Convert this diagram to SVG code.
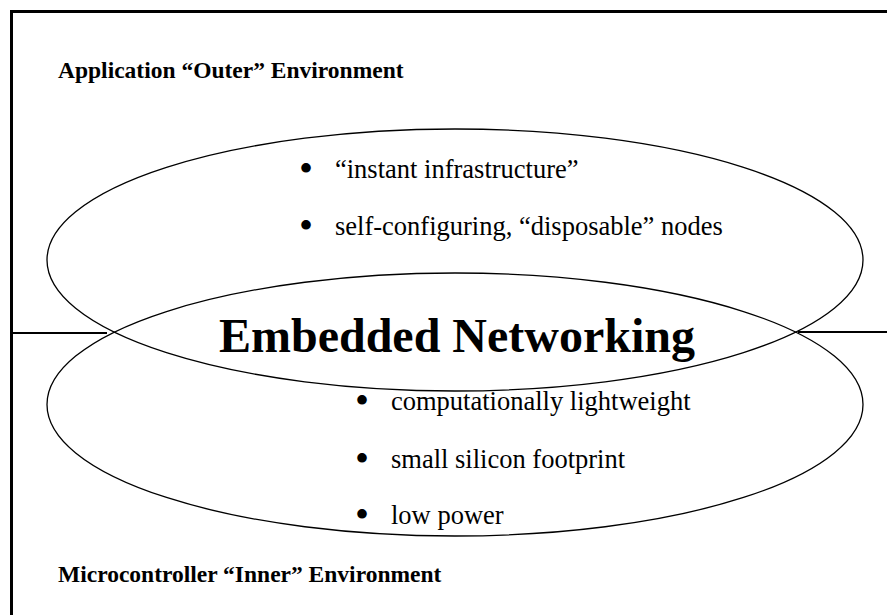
<svg xmlns="http://www.w3.org/2000/svg" width="887" height="615" viewBox="0 0 887 615">
  <style>
    .frame { fill: none; stroke: #000; stroke-width: 3; }
    .ring { fill: none; stroke: #000; stroke-width: 1.3; }
    .link { fill: none; stroke: #000; stroke-width: 2.2; }
    .head { font-family: "Liberation Serif", "Times New Roman", serif; font-weight: bold; font-size: 23.5px; fill: #000; }
    .title { font-family: "Liberation Serif", "Times New Roman", serif; font-weight: bold; font-size: 48px; fill: #000; }
    .item { font-family: "Liberation Serif", "Times New Roman", serif; font-size: 26.5px; fill: #000; }
    .dot { font-family: "Liberation Serif", "Times New Roman", serif; font-size: 40px; fill: #000; text-anchor: middle; }
  </style>

  <rect width="887" height="615" fill="#fff"/>

  <!-- page frame: only top and left edges fall inside the view -->
  <g id="frame">
    <path class="frame" d="M11.5 615 V11.5 H887"/>
  </g>

  <!-- outer environment ellipse -->
  <g id="outer-environment">
    <ellipse class="ring" cx="455" cy="260" rx="408" ry="131"/>
    <text class="dot" x="306" y="182">•</text>
    <text class="item" x="335" y="178">“instant infrastructure”</text>
    <text class="dot" x="306" y="239">•</text>
    <text class="item" x="335" y="235">self-configuring, “disposable” nodes</text>
  </g>

  <!-- inner environment ellipse -->
  <g id="inner-environment">
    <ellipse class="ring" cx="455" cy="404.5" rx="408" ry="131.5"/>
    <text class="dot" x="362" y="414">•</text>
    <text class="item" x="391" y="410">computationally lightweight</text>
    <text class="dot" x="362" y="472">•</text>
    <text class="item" x="391" y="468">small silicon footprint</text>
    <text class="dot" x="362" y="528">•</text>
    <text class="item" x="391" y="524">low power</text>
  </g>

  <g id="title">
    <text class="title" x="457" y="352" text-anchor="middle">Embedded Networking</text>
  </g>

  <g id="outer-label">
    <text class="head" x="58" y="78">Application “Outer” Environment</text>
  </g>

  <g id="inner-label">
    <text class="head" x="58" y="582">Microcontroller “Inner” Environment</text>
  </g>

  <!-- boundary lines meeting the ellipse crossings -->
  <g id="connectors">
    <line class="link" x1="11.5" y1="333" x2="107" y2="333"/>
    <line class="link" x1="798" y1="332" x2="887" y2="332"/>
  </g>
</svg>
